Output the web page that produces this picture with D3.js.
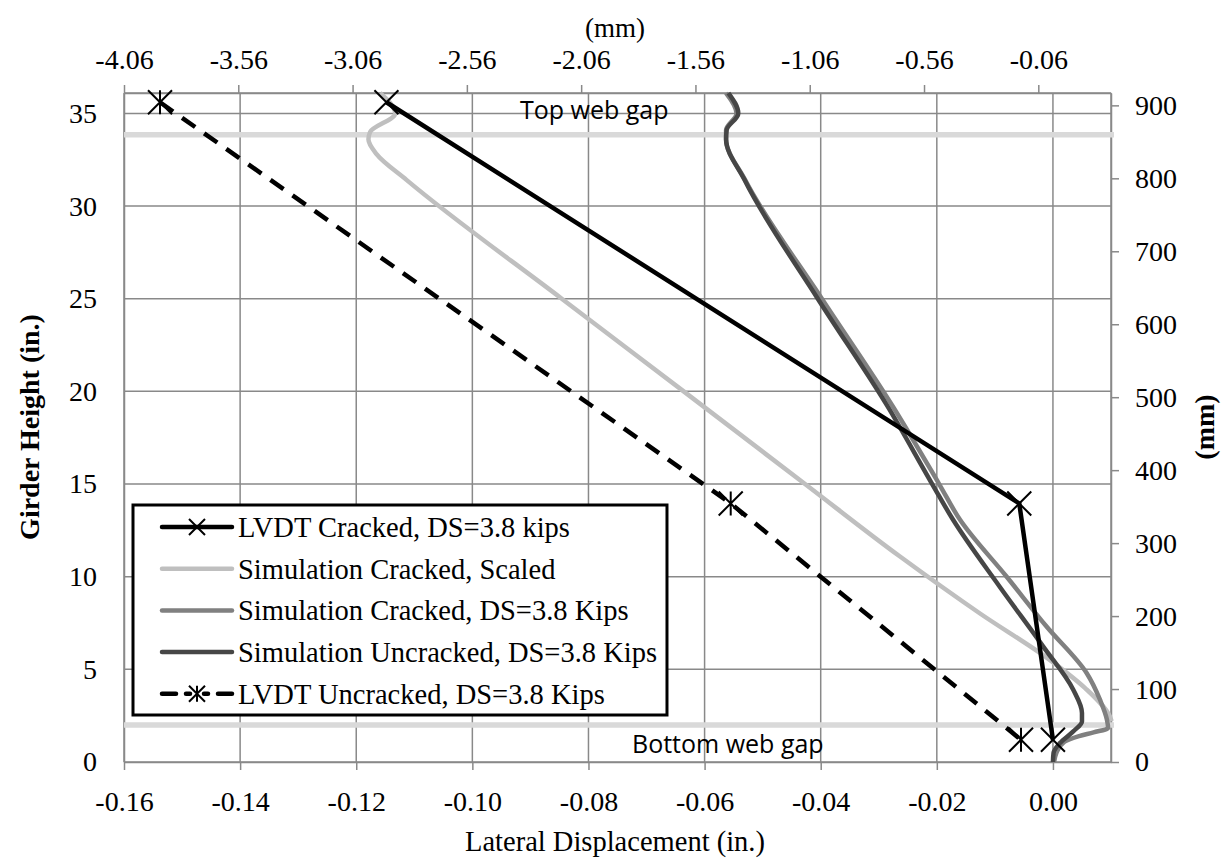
<!DOCTYPE html>
<html>
<head>
<meta charset="utf-8">
<script src="https://cdn.jsdelivr.net/npm/d3@7"></script>
<style>
  body { margin: 0; background: #fff; }
</style>
</head>
<body>
<svg id="chart" width="1228" height="859"></svg>
<script>
// ---- data (inches) ----
const xTicks = [-0.16, -0.14, -0.12, -0.10, -0.08, -0.06, -0.04, -0.02, 0.00];
const yTicks = [0, 5, 10, 15, 20, 25, 30, 35];
const mmTopTicks = [-4.064, -3.564, -3.064, -2.564, -2.064, -1.564, -1.064, -0.564, -0.064];
const mmRightTicks = [0, 100, 200, 300, 400, 500, 600, 700, 800, 900];

const lvdtCrackedX = [-0.1148, -0.0058, 0.0000];
const lvdtCrackedY = [35.6, 13.95, 1.2];

const lvdtUncrackedX = [-0.1538, -0.0555, -0.0055];
const lvdtUncrackedY = [35.6, 13.95, 1.2];

const simScaledY = [2.2, 2.46, 4.0, 5.5, 8.0, 11.1, 15, 20, 25, 31.4, 32.8, 33.6, 34.0, 35.0, 36.1];
const simScaledX = [0.0101, 0.0098, 0.0055, -0.0005, -0.0125, -0.0264, -0.0427, -0.0636, -0.0846, -0.1113, -0.1165, -0.1179, -0.1176, -0.1133, -0.1159];

const simCrackedY = [0, 0.5, 1.1, 1.4, 1.6, 1.83, 2.28, 3.36, 4.8, 7.31, 10.01, 13.07, 15, 19.2, 25, 31.4, 33.6, 34.1, 35.0, 36.1];
const simCrackedX = [0.0002, 0.0006, 0.0020, 0.0045, 0.0070, 0.0095, 0.0093, 0.0081, 0.0058, -0.0011, -0.0080, -0.0160, -0.0196, -0.0276, -0.0398, -0.0530, -0.0563, -0.0563, -0.0545, -0.0563];

const simUncrackedY = [0, 0.49, 1.02, 1.65, 2.19, 2.64, 3.9, 6.24, 9.47, 13.07, 15, 19.2, 25, 31.4, 33.6, 34.1, 35.0, 36.1];
const simUncrackedX = [0.0000, 0.0001, 0.0012, 0.0035, 0.0050, 0.0050, 0.0035, -0.0017, -0.0092, -0.0172, -0.0208, -0.0285, -0.0405, -0.0531, -0.0563, -0.0562, -0.0542, -0.0559];

const gapHeights = [33.85, 2.0];
const gapLabels = ["Top web gap", "Bottom web gap"];

const legendNames = [
  "LVDT Cracked, DS=3.8 kips",
  "Simulation Cracked, Scaled",
  "Simulation Cracked, DS=3.8 Kips",
  "Simulation Uncracked, DS=3.8 Kips",
  "LVDT Uncracked, DS=3.8 Kips"
];

// ---- layout ----
const svg = d3.select("#chart");
const plot = {left: 124, right: 1111, top: 93, bottom: 762};
const gridColor = "#898989";
const serif = "'Liberation Serif', 'Times New Roman', serif";

const x = d3.scaleLinear().domain([-0.16, 0.01]).range([plot.left, plot.right]);
const y = d3.scaleLinear().domain([0, 36.1]).range([plot.bottom, plot.top]);
const xMm = d3.scaleLinear().domain([-0.16 * 25.4, 0.01 * 25.4]).range([plot.left, plot.right]);
const yMm = d3.scaleLinear().domain([0, 36.1 * 25.4]).range([plot.bottom, plot.top]);

const fmt = d => d3.format(".2f")(d).replace("\u2212", "-");

// gridlines
const grid = svg.append("g").attr("stroke", gridColor).attr("stroke-width", 1.5);
grid.selectAll(".gx").data(xTicks.concat([0.01])).join("line")
  .attr("x1", d => x(d)).attr("x2", d => x(d))
  .attr("y1", plot.top).attr("y2", plot.bottom);
grid.selectAll(".gy").data(yTicks.concat([36.1])).join("line")
  .attr("x1", plot.left).attr("x2", plot.right)
  .attr("y1", d => y(d)).attr("y2", d => y(d));

// axes
function styleAxis(g) {
  g.attr("font-family", null).attr("font-size", null);
  g.selectAll("path, line").attr("stroke", gridColor).attr("stroke-width", 1.5);
  g.selectAll("text").style("font-size", "28px").style("font-family", serif).style("fill", "#000");
}
svg.append("g").attr("transform", `translate(0,${plot.bottom})`)
  .call(d3.axisBottom(x).tickValues(xTicks).tickFormat(fmt).tickSize(8).tickSizeOuter(0).tickPadding(21))
  .call(styleAxis);
svg.append("g").attr("transform", `translate(0,${plot.top})`)
  .call(d3.axisTop(xMm).tickValues(mmTopTicks).tickFormat(fmt).tickSize(8).tickSizeOuter(0).tickPadding(16))
  .call(styleAxis);
svg.append("g").attr("transform", `translate(${plot.left},0)`)
  .call(d3.axisLeft(y).tickValues(yTicks).tickSize(0).tickSizeOuter(0).tickPadding(27))
  .call(styleAxis);
svg.append("g").attr("transform", `translate(${plot.right},0)`)
  .call(d3.axisRight(yMm).tickValues(mmRightTicks).tickSize(8).tickSizeOuter(0).tickPadding(16))
  .call(styleAxis);

// web gap lines
svg.selectAll(".gap").data(gapHeights).join("line")
  .attr("x1", x(-0.16)).attr("x2", x(0.01) + 3)
  .attr("y1", d => y(d)).attr("y2", d => y(d))
  .attr("stroke", "#d9d9d9").attr("stroke-width", 5.5);

svg.append("text").attr("x", 520).attr("y", 119)
  .style("font-family", "'Open Sans', sans-serif").style("font-size", "25px")
  .text(gapLabels[0]);
svg.append("text").attr("x", 632).attr("y", 753)
  .style("font-family", "'Open Sans', sans-serif").style("font-size", "25px")
  .text(gapLabels[1]);

// series
const zip = (xs, ys) => xs.map((v, i) => ({x: v, y: ys[i]}));
const smooth = d3.line().x(d => x(d.x)).y(d => y(d.y)).curve(d3.curveMonotoneY);
const straight = d3.line().x(d => x(d.x)).y(d => y(d.y));

const series = [
  {pts: zip(simScaledX, simScaledY), color: "#bfbfbf", w: 4.5, line: smooth},
  {pts: zip(simCrackedX, simCrackedY), color: "#808080", w: 4.5, line: smooth},
  {pts: zip(simUncrackedX, simUncrackedY), color: "#464646", w: 4.5, line: smooth},
  {pts: zip(lvdtCrackedX, lvdtCrackedY), color: "#000", w: 4.5, line: straight, marker: "x"},
  {pts: zip(lvdtUncrackedX, lvdtUncrackedY), color: "#000", w: 4.5, line: straight, marker: "star", dash: "16,11"}
];

function markerPath(type, s) {
  let p = `M${-s},${-s}L${s},${s}M${-s},${s}L${s},${-s}`;
  if (type === "star") p += `M0,${-s}L0,${s}`;
  return p;
}

series.forEach(s => {
  svg.append("path").datum(s.pts)
    .attr("d", s.line)
    .attr("fill", "none")
    .attr("stroke", s.color)
    .attr("stroke-width", s.w)
    .attr("stroke-dasharray", s.dash || null);
  if (s.marker) {
    svg.selectAll(null).data(s.pts).join("path")
      .attr("transform", d => `translate(${x(d.x)},${y(d.y)})`)
      .attr("d", markerPath(s.marker, 12))
      .attr("stroke", "#000").attr("stroke-width", 2).attr("fill", "none");
  }
});

// legend
const legendStyle = [
  {color: "#000", marker: "x"},
  {color: "#bfbfbf"},
  {color: "#808080"},
  {color: "#464646"},
  {color: "#000", marker: "star", dash: true}
];
const leg = svg.append("g");
const box = leg.append("rect").attr("x", 133).attr("y", 505).attr("height", 210)
  .attr("fill", "#fff").attr("stroke", "#000").attr("stroke-width", 3);
let maxW = 0;
legendNames.forEach((name, i) => {
  const cy = 527 + i * 41.7;
  const st = legendStyle[i];
  if (st.dash) {
    [[162, 176], [186, 190], [204, 208], [218, 232]].forEach(([a, b]) => {
      leg.append("line").attr("x1", a).attr("x2", b).attr("y1", cy).attr("y2", cy)
        .attr("stroke", st.color).attr("stroke-width", 4.5).attr("stroke-linecap", "round");
    });
  } else {
    leg.append("line").attr("x1", 162).attr("x2", 232).attr("y1", cy).attr("y2", cy)
      .attr("stroke", st.color).attr("stroke-width", 4.5).attr("stroke-linecap", "round");
  }
  if (st.marker) {
    leg.append("path").attr("transform", `translate(197,${cy})`)
      .attr("d", markerPath(st.marker, 8)).attr("stroke", "#000").attr("stroke-width", 2);
  }
  const t = leg.append("text").attr("x", 238).attr("y", cy).attr("dy", "0.35em")
    .style("font-family", serif).style("font-size", "28.5px").text(name);
  maxW = Math.max(maxW, t.node().getComputedTextLength());
});
box.attr("width", 238 + maxW + 10 - 133);

// axis titles
svg.append("text").attr("x", 615).attr("y", 851).attr("text-anchor", "middle")
  .style("font-family", serif).style("font-size", "28.5px").text("Lateral Displacement (in.)");
svg.append("text").attr("x", 615).attr("y", 37).attr("text-anchor", "middle")
  .style("font-family", serif).style("font-size", "27px").text("(mm)");
svg.append("text").attr("transform", "translate(39,427) rotate(-90)").attr("text-anchor", "middle")
  .style("font-family", serif).style("font-size", "28px").style("font-weight", "bold").text("Girder Height (in.)");
svg.append("text").attr("transform", "translate(1214,427) rotate(-90)").attr("text-anchor", "middle")
  .style("font-family", serif).style("font-size", "28px").style("font-weight", "bold").text("(mm)");
</script>
</body>
</html>
